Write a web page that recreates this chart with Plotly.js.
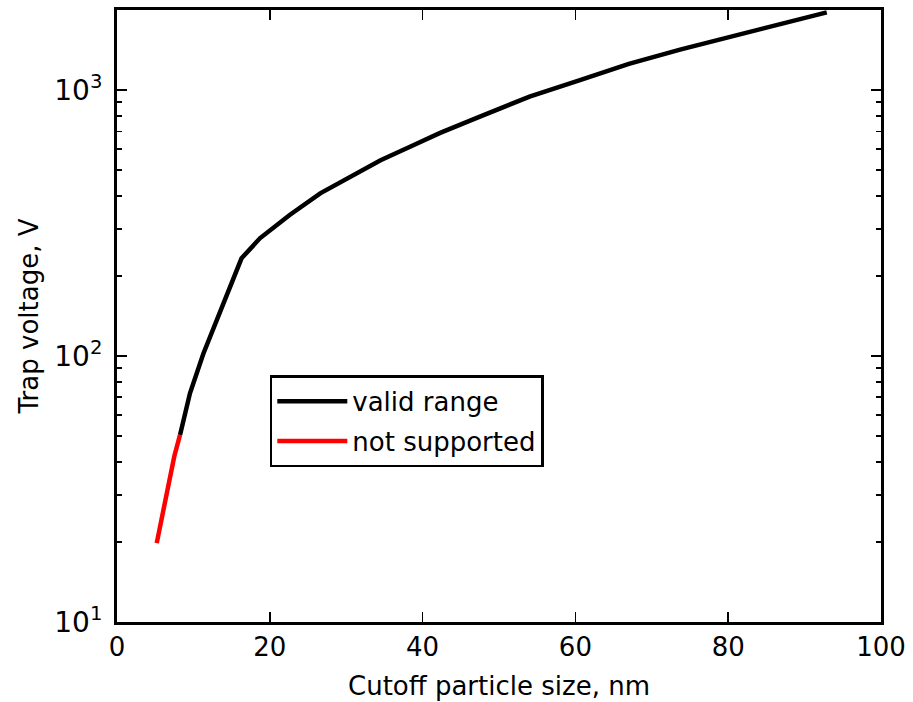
<!DOCTYPE html>
<html>
<head>
<meta charset="utf-8">
<script src="https://cdn.plot.ly/plotly-3.0.1.min.js"></script>
<style>
html,body{margin:0;padding:0;background:#fff;}
#chart{width:913px;height:702px;}
</style>
</head>
<body>
<div id="chart"></div>
<script>
// Valid range (black)
const validSize = [8.25, 9.55, 11.3, 13.05, 14.8, 16.3, 18.7, 22.6, 26.6, 30.5, 34.5, 38.5, 42.3, 47.5, 54, 60.6, 67, 73.7, 80, 86, 92.9];
const validVolt = [50.5, 72.4, 102, 136, 182, 233, 277, 339, 409, 472, 545, 615, 690, 795, 945, 1090, 1255, 1420, 1575, 1745, 1960];
// Not supported (red)
const unsupSize = [5.2, 6, 6.7, 7.5, 8.25];
const unsupVolt = [19.8, 26, 32.5, 42, 50.5];
// Tick labels
const xTicks = [0, 20, 40, 60, 80, 100];
const yTicks = [10, 100, 1000];
const yTickText = ['10<sup>1</sup>', '10<sup>2</sup>', '10<sup>3</sup>'];
const yMinor = [20,30,40,50,60,70,80,90,200,300,400,500,600,700,800,900];

const FONT = 'DejaVu Sans';

const data = [
  {x: validSize, y: validVolt, mode: 'lines', name: 'valid range', legendgroup: 'a',
   line: {color: '#000000', width: 4.5}},
  {x: unsupSize, y: unsupVolt, mode: 'lines', name: 'not supported', legendgroup: 'b',
   line: {color: '#ff0000', width: 4.5}}
];

const layout = {
  width: 913, height: 702,
  margin: {l: 117, r: 32, t: 10, b: 80},
  paper_bgcolor: '#ffffff', plot_bgcolor: '#ffffff',
  font: {family: FONT, size: 26, color: '#000000'},
  showlegend: true,
  legend: {
    x: 0.2, y: 0.403, xanchor: 'left', yanchor: 'top',
    bgcolor: '#ffffff', bordercolor: '#000000', borderwidth: 2.5,
    itemwidth: 70, tracegroupgap: 3,
    font: {family: FONT, size: 26, color: '#000000'}
  },
  xaxis: {
    range: [0, 100],
    tickmode: 'array', tickvals: xTicks,
    ticks: 'inside', ticklen: 10, tickwidth: 1.5, tickcolor: '#000',
    showline: true, linecolor: '#000', linewidth: 3, mirror: 'ticks',
    showgrid: false, zeroline: false,
    tickfont: {family: FONT, size: 26},
    title: {text: 'Cutoff particle size, nm', font: {family: FONT, size: 26}, standoff: 16}
  },
  yaxis: {
    type: 'log',
    range: [1, 3.301],
    tickmode: 'array', tickvals: yTicks, ticktext: yTickText,
    ticks: 'inside', ticklen: 10, tickwidth: 1.5, tickcolor: '#000',
    ticklabelstandoff: 6,
    showline: true, linecolor: '#000', linewidth: 3, mirror: 'ticks',
    showgrid: false, zeroline: false,
    tickfont: {family: FONT, size: 28},
    minor: {tickmode: 'array', tickvals: yMinor, ticks: 'inside', ticklen: 5, tickwidth: 1.5, tickcolor: '#000', showgrid: false},
    title: {text: 'Trap voltage, V', font: {family: FONT, size: 26}, standoff: 9}
  }
};

Plotly.newPlot('chart', data, layout, {displayModeBar: false, staticPlot: true});
</script>
</body>
</html>
